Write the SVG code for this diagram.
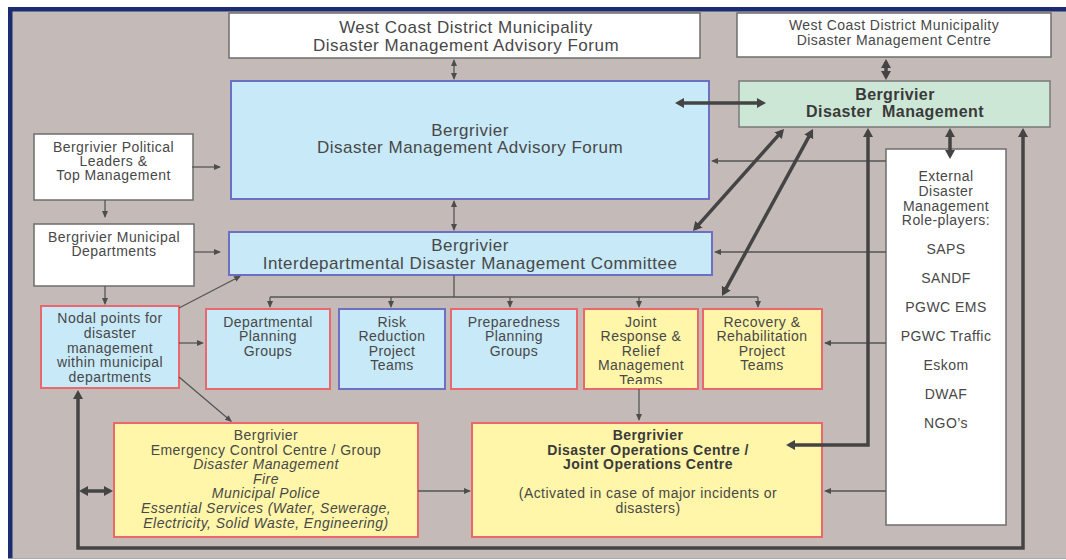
<svg xmlns="http://www.w3.org/2000/svg" width="1066" height="560" viewBox="0 0 1066 560">
<style>
text{font-family:"Liberation Sans",Arial,sans-serif;fill:#484848;text-anchor:middle}
.big{font-size:17px;letter-spacing:0.5px}
.sm{font-size:14px;letter-spacing:0.45px}
.bdm{font-size:16px;letter-spacing:0.4px;font-weight:bold;fill:#3a3a3a}
.b{font-weight:bold;fill:#3a3a3a}
.it{font-style:italic}
.white{fill:#ffffff;stroke:#6e6e6e;stroke-width:1.5}
.blueB{fill:#c7e9f8;stroke:#6d70c2;stroke-width:2}
.blueR{fill:#c7e9f8;stroke:#ea676c;stroke-width:2}
.yel{fill:#fff6a9;stroke:#ea676c;stroke-width:2}
.green{fill:#cde7d6;stroke:#7a7a7a;stroke-width:1.5}
.thin{fill:none;stroke:#555;stroke-width:1.3}
.thick{fill:none;stroke:#444;stroke-width:3.5}
</style>
<defs>
<marker id="ah" viewBox="0 0 7 6" refX="5.5" refY="3" markerWidth="7" markerHeight="6" markerUnits="userSpaceOnUse" orient="auto-start-reverse"><path d="M0,0L7,3L0,6z" fill="#4d4d4d"/></marker>
<marker id="AH" viewBox="0 0 9 10" refX="5.8" refY="5" markerWidth="9" markerHeight="10" markerUnits="userSpaceOnUse" orient="auto-start-reverse"><path d="M0,0L9,5L0,10z" fill="#444"/></marker>
<clipPath id="clipJoint"><rect x="585" y="310" width="112" height="74"/></clipPath>
</defs>
<rect x="0" y="0" width="1066" height="560" fill="#ffffff"/>
<rect x="8" y="7" width="1058" height="551.5" fill="#1b2d70"/>
<rect x="12.5" y="11.5" width="1053.5" height="547" fill="#c4bbb8"/>

<g id="wcdm-forum">
<rect class="white" x="229" y="13" width="471" height="45"/>
<text class="big" x="466" y="33">West Coast District Municipality</text>
<text class="big" x="466" y="51">Disaster Management Advisory Forum</text>
</g>
<g id="wcdm-centre">
<rect class="white" x="737" y="13" width="314" height="44"/>
<text class="sm" x="894" y="30">West Coast District Municipality</text>
<text class="sm" x="894" y="45">Disaster Management Centre</text>
</g>
<g id="bergrivier-dm">
<rect class="green" x="739" y="81" width="311" height="46"/>
<text class="bdm" x="895" y="100">Bergrivier</text>
<text class="bdm" style="white-space:pre" x="895" y="117">Disaster  Management</text>
</g>
<g id="advisory-forum">
<rect class="blueB" x="231" y="81" width="478" height="118"/>
<text class="big" x="470" y="136">Bergrivier</text>
<text class="big" x="470" y="153">Disaster Management Advisory Forum</text>
</g>
<g id="political">
<rect class="white" x="34" y="134" width="159" height="66"/>
<text class="sm" x="113.5" y="152">Bergrivier Political</text>
<text class="sm" x="113.5" y="166">Leaders &amp;</text>
<text class="sm" x="113.5" y="180">Top Management</text>
</g>
<g id="municipal-departments">
<rect class="white" x="34" y="224" width="160" height="62"/>
<text class="sm" x="114" y="242">Bergrivier Municipal</text>
<text class="sm" x="114" y="256">Departments</text>
</g>
<g id="idmc">
<rect class="blueB" x="229" y="232" width="483" height="43"/>
<text class="big" x="470" y="251">Bergrivier</text>
<text class="big" x="470" y="269">Interdepartmental Disaster Management Committee</text>
</g>
<g id="nodal-points">
<rect class="blueR" x="41" y="306" width="138" height="82"/>
<text class="sm" x="110" y="323">Nodal points for</text>
<text class="sm" x="110" y="338">disaster</text>
<text class="sm" x="110" y="353">management</text>
<text class="sm" x="110" y="367">within municipal</text>
<text class="sm" x="110" y="382">departments</text>
</g>
<g id="departmental-planning">
<rect class="blueR" x="206" y="309" width="124" height="80"/>
<text class="sm" x="268" y="327">Departmental</text>
<text class="sm" x="268" y="341">Planning</text>
<text class="sm" x="268" y="356">Groups</text>
</g>
<g id="risk-reduction">
<rect class="blueB" x="339" y="309" width="106" height="80"/>
<text class="sm" x="392" y="327">Risk</text>
<text class="sm" x="392" y="341">Reduction</text>
<text class="sm" x="392" y="356">Project</text>
<text class="sm" x="392" y="370">Teams</text>
</g>
<g id="preparedness-planning">
<rect class="blueR" x="451" y="309" width="126" height="80"/>
<text class="sm" x="514" y="327">Preparedness</text>
<text class="sm" x="514" y="341">Planning</text>
<text class="sm" x="514" y="356">Groups</text>
</g>
<g id="joint-response">
<rect class="yel" x="584" y="309" width="114" height="80"/>
<g clip-path="url(#clipJoint)">
<text class="sm" x="641" y="327">Joint</text>
<text class="sm" x="641" y="341">Response &amp;</text>
<text class="sm" x="641" y="356">Relief</text>
<text class="sm" x="641" y="370">Management</text>
<text class="sm" x="641" y="385">Teams</text>
</g>
</g>
<g id="recovery">
<rect class="yel" x="703" y="309" width="119" height="80"/>
<text class="sm" x="762" y="327">Recovery &amp;</text>
<text class="sm" x="762" y="341">Rehabilitation</text>
<text class="sm" x="762" y="356">Project</text>
<text class="sm" x="762" y="370">Teams</text>
</g>
<g id="external">
<rect class="white" x="886" y="149" width="120" height="376"/>
<text class="sm" x="946" y="181">External</text>
<text class="sm" x="946" y="196">Disaster</text>
<text class="sm" x="946" y="211">Management</text>
<text class="sm" x="946" y="225">Role-players:</text>
<text class="sm" x="946" y="254">SAPS</text>
<text class="sm" x="946" y="283">SANDF</text>
<text class="sm" x="946" y="312">PGWC EMS</text>
<text class="sm" x="946" y="341">PGWC Traffic</text>
<text class="sm" x="946" y="370">Eskom</text>
<text class="sm" x="946" y="399">DWAF</text>
<text class="sm" x="946" y="428">NGO’s</text>
</g>
<g id="emergency-control">
<rect class="yel" x="114" y="423" width="304" height="114"/>
<text class="sm" x="266" y="440">Bergrivier</text>
<text class="sm" x="266" y="455">Emergency Control Centre / Group</text>
<text class="sm it" x="266" y="469">Disaster Management</text>
<text class="sm it" x="266" y="484">Fire</text>
<text class="sm it" x="266" y="498">Municipal Police</text>
<text class="sm it" x="266" y="513">Essential Services (Water, Sewerage,</text>
<text class="sm it" x="266" y="528">Electricity, Solid Waste, Engineering)</text>
</g>
<g id="operations-centre">
<rect class="yel" x="472" y="423" width="350" height="114"/>
<text class="sm b" x="648" y="440">Bergrivier</text>
<text class="sm b" x="648" y="455">Disaster Operations Centre /</text>
<text class="sm b" x="648" y="469">Joint Operations Centre</text>
<text class="sm" x="648" y="498">(Activated in case of major incidents or</text>
<text class="sm" x="648" y="513">disasters)</text>
</g>

<g id="connectors">
<path class="thin" d="M192,167H219.5" marker-end="url(#ah)"/>
<path class="thin" d="M105,200V216.5" marker-end="url(#ah)"/>
<path class="thin" d="M194,252H219.5" marker-end="url(#ah)"/>
<path class="thin" d="M454,60.5V78.5" marker-start="url(#ah)" marker-end="url(#ah)"/>
<path class="thin" d="M454,201.5V229.5" marker-start="url(#ah)" marker-end="url(#ah)"/>
<path class="thin" d="M454,275V297M270,297H758"/>
<path class="thin" d="M270,297V306.5" marker-end="url(#ah)"/>
<path class="thin" d="M391,297V306.5" marker-end="url(#ah)"/>
<path class="thin" d="M510,297V306.5" marker-end="url(#ah)"/>
<path class="thin" d="M639,297V306.5" marker-end="url(#ah)"/>
<path class="thin" d="M758,297V306.5" marker-end="url(#ah)"/>
<path class="thin" d="M105,286V303.5" marker-end="url(#ah)"/>
<path class="thin" d="M179,308L239.7,276.5" marker-end="url(#ah)"/>
<path class="thin" d="M179,343H202.5" marker-end="url(#ah)"/>
<path class="thin" d="M179,377L230.9,421" marker-end="url(#ah)"/>
<path class="thin" d="M639,389V419.5" marker-end="url(#ah)"/>
<path class="thin" d="M418,491H469.5" marker-end="url(#ah)"/>
<path class="thin" d="M886,161H712.5" marker-end="url(#ah)"/>
<path class="thin" d="M886,252H715.5" marker-end="url(#ah)"/>
<path class="thin" d="M886,343H825.5" marker-end="url(#ah)"/>
<path class="thin" d="M886,491H825.5" marker-end="url(#ah)"/>

<path class="thick" d="M886,62.2V76.8" marker-start="url(#AH)" marker-end="url(#AH)"/>
<path class="thick" d="M678.2,103H762.8" marker-start="url(#AH)" marker-end="url(#AH)"/>
<path class="thick" d="M950,131.2V155.8" marker-start="url(#AH)" marker-end="url(#AH)"/>
<path class="thick" d="M781.9,131.4L695.1,228.6" marker-start="url(#AH)" marker-end="url(#AH)"/>
<path class="thick" d="M811.5,131.8L723.5,293.2" marker-start="url(#AH)" marker-end="url(#AH)"/>
<path class="thick" d="M868,131.2V445H789.2" marker-start="url(#AH)" marker-end="url(#AH)"/>
<path class="thick" d="M1023,131.2V548H78V393.2" marker-start="url(#AH)" marker-end="url(#AH)"/>
<path class="thick" d="M82.2,491H109.8" marker-start="url(#AH)" marker-end="url(#AH)"/>
</g>
</svg>
